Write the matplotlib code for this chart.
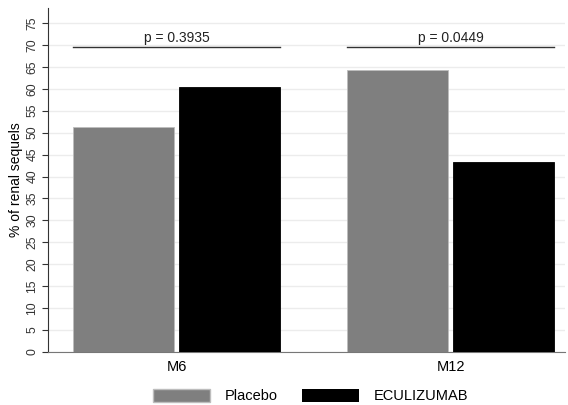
import matplotlib
matplotlib.use("Agg")
import matplotlib.pyplot as plt
import matplotlib.patches as mpatches
import numpy as np

plt.rcParams['font.family'] = ['Liberation Sans', 'DejaVu Sans']

categories = ["M6", "M12"]
placebo = [51.2, 64.4]
eculizumab = [60.3, 43.4]
p_values = ["p = 0.3935", "p = 0.0449"]
p_level = 69.6
yticks = list(range(0, 80, 5))

fig = plt.figure(figsize=(5.68, 4.05), dpi=100)
ax = fig.add_axes([0.0845, 0.131, 0.9105, 0.849])

x = np.arange(len(categories))
w = 0.368
gap = 0.009
ax.bar(x - w/2 - gap, placebo, width=w, color="#7f7f7f", edgecolor="#bdbdbd", linewidth=0.6, zorder=3)
ax.bar(x + w/2 + gap, eculizumab, width=w, color="#000000", edgecolor="#000000", linewidth=0.6, zorder=3)

for i, p in enumerate(p_values):
    ax.plot([x[i] - w - gap, x[i] + w + gap], [p_level, p_level], color="#333333", lw=1.0, zorder=4)
    ax.text(x[i], p_level + 0.4, p, ha="center", va="bottom", fontsize=10, color="#222222")

ax.set_xlim(-0.469, 1.418)
ax.set_ylim(0, 78.4)
ax.set_yticks(yticks)
ax.set_yticklabels([str(t) for t in yticks], rotation=90, va="center", fontsize=8.8, color="#333333")
ax.set_xticks(x)
ax.set_xticklabels(categories, fontsize=10.5)
ax.tick_params(axis="x", length=0, pad=6)
ax.tick_params(axis="y", length=4, color="#333333", pad=3)
ax.yaxis.grid(True, color="#ececec", lw=1.0, zorder=0)
ax.set_axisbelow(True)
for s in ["top", "right"]:
    ax.spines[s].set_visible(False)
ax.spines["left"].set_color("#333333")
ax.spines["bottom"].set_color("#777777")
ax.set_ylabel("% of renal sequels", fontsize=10, labelpad=2)

handles = [mpatches.Patch(facecolor="#7f7f7f", edgecolor="#bdbdbd", label="Placebo"),
           mpatches.Patch(facecolor="#000000", label="ECULIZUMAB")]
fig.legend(handles=handles, loc="center left", bbox_to_anchor=(153/568, 1 - 396/405), ncol=2, frameon=False,
           fontsize=10.5, handlelength=3.9, handleheight=1.0, columnspacing=1.7, handletextpad=1.0,
           borderpad=0, borderaxespad=0)

fig.savefig("out.png", dpi=100, facecolor="white")
